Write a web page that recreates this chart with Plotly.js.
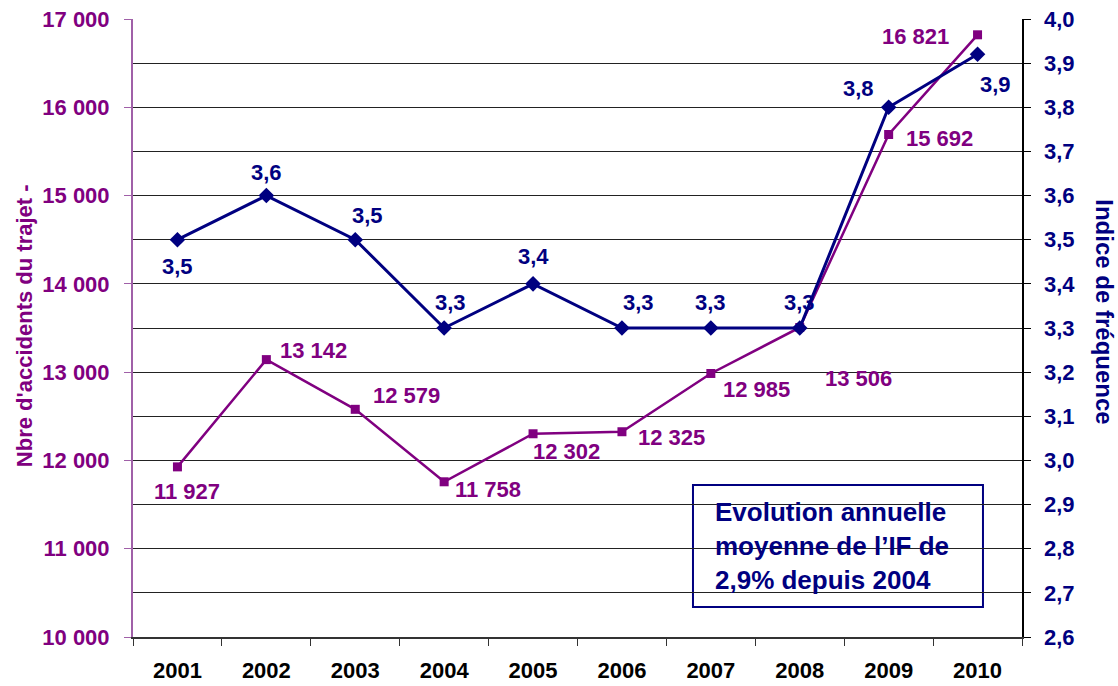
<!DOCTYPE html>
<html>
<head>
<meta charset="utf-8">
<script src="https://cdn.plot.ly/plotly-3.0.1.min.js"></script>
<style>
  body { margin: 0; background: #fff; }
  #graphe { width: 1118px; height: 686px; }
</style>
</head>
<body>
<div id="graphe"></div>
<script>
// Données
var annees = ['2001', '2002', '2003', '2004', '2005', '2006', '2007', '2008', '2009', '2010'];
var accidents = [11927, 13142, 12579, 11758, 12302, 12325, 12985, 13506, 15692, 16821];
var indiceFreq = [3.5, 3.6, 3.5, 3.3, 3.4, 3.3, 3.3, 3.3, 3.8, 3.92];

// décalage des étiquettes (en pixels) par rapport au point
var decalAcc = [[10, 25], [47, -9], [51, -14], [44, 8], [33, 18], [50, 6], [46, 16], [59, 51], [51, 4], [-62, 2]];
var decalIF = [[0, 27], [0, -23], [12, -24], [6, -26], [0, -27], [17, -26], [0, -26], [0, -26], [-30, -19], [18, 30]];

var violet = '#800080';
var marine = '#000080';
var police = 'Liberation Sans, Arial, sans-serif';

// nombre avec espace comme séparateur de milliers
const formatMilliers = v => String(v).replace(/\B(?=(\d{3})+(?!\d))/g, ' ');

var traces = [
    {
        x: annees,
        y: accidents,
        name: 'Accidents du trajet',
        type: 'scatter',
        mode: 'lines+markers',
        line: { color: violet, width: 2.5 },
        marker: { color: violet, symbol: 'square', size: 9 },
        cliponaxis: false
    },
    {
        x: annees,
        y: indiceFreq,
        yaxis: 'y2',
        name: 'Indice de fréquence',
        type: 'scatter',
        mode: 'lines+markers',
        line: { color: marine, width: 3 },
        marker: { color: marine, symbol: 'diamond', size: 12 },
        cliponaxis: false
    }
];

var annotations = [];
// sur un axe "category" il faut l'indice, pas le libellé (sinon '2001' = position 2001)
for (i = 0; i < annees.length; i++) {
    annotations.push({
        x: i, y: accidents[i], xref: 'x', yref: 'y',
        text: formatMilliers(accidents[i]),
        showarrow: false,
        xshift: decalAcc[i][0], yshift: -decalAcc[i][1],
        font: { family: police, size: 22, color: violet, weight: 'bold' }
    });
    annotations.push({
        x: i, y: indiceFreq[i], xref: 'x', yref: 'y2',
        text: indiceFreq[i].toFixed(1).replace('.', ','),
        showarrow: false,
        xshift: decalIF[i][0], yshift: -decalIF[i][1],
        font: { family: police, size: 22, color: marine, weight: 'bold' }
    });
}

// titres des axes (placés à la main)
annotations.push({
    xref: 'paper', yref: 'paper', x: -0.1226, y: 0.503, xanchor: 'center', yanchor: 'middle',
    text: "Nbre d'accidents du trajet -", textangle: -90, showarrow: false,
    font: { family: police, size: 22, color: violet, weight: 'bold' }
});
annotations.push({
    xref: 'paper', yref: 'paper', x: 1.0934, y: 0.527, xanchor: 'center', yanchor: 'middle',
    text: 'Indice de fréquence', textangle: 90, showarrow: false,
    font: { family: police, size: 24, color: marine, weight: 'bold' }
});
// encadré
annotations.push({
    xref: 'paper', yref: 'paper', x: 0.6524, y: 0.148, xanchor: 'left', yanchor: 'middle',
    text: 'Evolution annuelle<br>moyenne de l’IF de<br>2,9% depuis 2004',
    align: 'left', showarrow: false,
    font: { family: police, size: 26, color: marine, weight: 'bold' }
});

var layout = {
    width: 1118,
    height: 686,
    margin: { l: 133, r: 96, t: 19, b: 49 },
    paper_bgcolor: '#fff',
    plot_bgcolor: '#fff',
    showlegend: false,
    separators: ', ',
    font: { family: police },
    xaxis: {
        type: 'category',
        range: [-0.5, 9.5],
        showgrid: false,
        showline: true,
        linecolor: '#333',
        linewidth: 1.5,
        ticks: 'outside',
        tickson: 'boundaries',
        ticklen: 7,
        tickcolor: '#333',
        ticklabelstandoff: 13,
        tickfont: { family: police, size: 22, color: '#000', weight: 'bold' }
    },
    yaxis: {
        range: [10000, 17000],
        dtick: 1000,
        tickformat: ',d',
        showgrid: false,
        zeroline: false,
        showline: true,
        linecolor: '#a060a8',
        linewidth: 2,
        ticks: 'outside',
        ticklen: 7,
        tickcolor: '#a060a8',
        ticklabelstandoff: 10,
        tickfont: { family: police, size: 22, color: violet, weight: 'bold' }
    },
    yaxis2: {
        overlaying: 'y',
        side: 'right',
        range: [2.6, 4.0],
        dtick: 0.1,
        tickformat: '.1f',
        showgrid: true,
        gridcolor: '#222',
        gridwidth: 1,
        zeroline: false,
        showline: true,
        linecolor: '#000',
        linewidth: 1.5,
        ticks: 'outside',
        ticklen: 7,
        tickcolor: '#000',
        ticklabelstandoff: 9,
        tickfont: { family: police, size: 22, color: marine, weight: 'bold' }
    },
    shapes: [{
        type: 'rect', xref: 'paper', yref: 'paper',
        x0: 0.6299, x1: 0.9561, y0: 0.0486, y1: 0.2460,
        fillcolor: '#fff', line: { color: marine, width: 2 },
        layer: 'below'
    }],
    annotations: annotations
};

Plotly.newPlot('graphe', traces, layout, { displayModeBar: false, staticPlot: true });
</script>
</body>
</html>
